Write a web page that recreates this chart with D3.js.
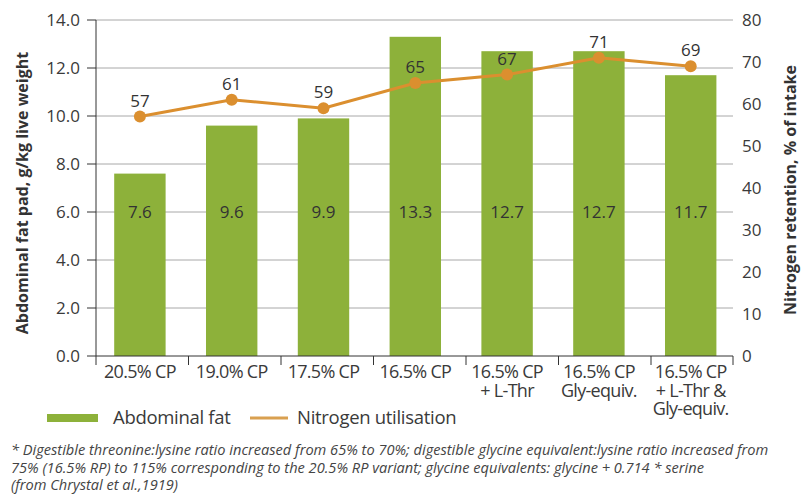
<!DOCTYPE html>
<html>
<head>
<meta charset="utf-8">
<script src="https://cdn.jsdelivr.net/npm/d3@7"></script>
<style>
  html, body { margin: 0; padding: 0; background: #fff; }
  svg { display: block; font-family: "Open Sans", sans-serif; }
</style>
</head>
<body>
<svg id="chart" width="809" height="495"></svg>
<script>
const categories = [
  ["20.5% CP"],
  ["19.0% CP"],
  ["17.5% CP"],
  ["16.5% CP"],
  ["16.5% CP", "+ L-Thr"],
  ["16.5% CP", "Gly-equiv."],
  ["16.5% CP", "+ L-Thr &", "Gly-equiv."]
];
const abdominalFat = [7.6, 9.6, 9.9, 13.3, 12.7, 12.7, 11.7];
const nitrogenUtilisation = [57, 61, 59, 65, 67, 71, 69];
const leftTicks = [0, 2, 4, 6, 8, 10, 12, 14];
const rightTicks = [0, 10, 20, 30, 40, 50, 60, 70, 80];
const footnote = [
  "* Digestible threonine:lysine ratio increased from 65% to 70%; digestible glycine equivalent:lysine ratio increased from",
  "75% (16.5% RP) to 115% corresponding to the 20.5% RP variant; glycine equivalents: glycine + 0.714 * serine",
  "(from Chrystal et al.,1919)"
];

const svg = d3.select("#chart");
const GREEN = "#8db13a", ORANGE = "#db8f2f", TEXT = "#3a3a3a";
const plotL = 96, plotR = 733, plotT = 20, plotB = 356;

const ids = categories.map((c, i) => i);
const x = d3.scaleBand().domain(ids).range([94, 736.6]).paddingInner(0.44).paddingOuter(0.22);
const yL = d3.scaleLinear().domain([0, 14]).range([plotB, plotT]);
const yR = d3.scaleLinear().domain([0, 80]).range([plotB, plotT]);
const tickX = d3.scaleLinear().domain([0, 1]).range([96, 188.5]);
const cx = i => x(i) + x.bandwidth() / 2;

// gridlines
svg.append("g").selectAll("line").data(leftTicks.filter(t => t > 0)).join("line")
  .attr("x1", plotL).attr("x2", plotR)
  .attr("y1", d => yL(d)).attr("y2", d => yL(d))
  .attr("stroke", "#a8a8a8").attr("stroke-width", 1);

// bars
svg.append("g").selectAll("rect").data(abdominalFat).join("rect")
  .attr("x", (d, i) => x(i)).attr("width", x.bandwidth())
  .attr("y", d => yL(d)).attr("height", d => yL(0) - yL(d))
  .attr("fill", GREEN);

// bar labels
svg.append("g").selectAll("text").data(abdominalFat).join("text")
  .attr("x", (d, i) => cx(i))
  .attr("y", yL(6))
  .attr("dy", "0.35em")
  .attr("text-anchor", "middle")
  .attr("font-size", 17).attr("fill", "#333")
  .text(d => d.toFixed(1));

// left axis
const gL = svg.append("g");
gL.append("line").attr("x1", plotL).attr("x2", plotL).attr("y1", plotT).attr("y2", plotB)
  .attr("stroke", "#333");
gL.selectAll("line.t").data(leftTicks).join("line").attr("class", "t")
  .attr("x1", 87).attr("x2", plotL).attr("y1", d => yL(d)).attr("y2", d => yL(d))
  .attr("stroke", "#333");
gL.selectAll("text").data(leftTicks).join("text")
  .attr("x", 80).attr("y", d => yL(d)).attr("dy", "0.35em")
  .attr("text-anchor", "end").attr("font-size", 17).attr("fill", TEXT)
  .text(d => d.toFixed(1));

// right axis labels
svg.append("g").selectAll("text").data(rightTicks).join("text")
  .attr("x", 742).attr("y", d => yR(d)).attr("dy", "0.35em")
  .attr("text-anchor", "start").attr("font-size", 17).attr("fill", TEXT)
  .text(d => d);

// x axis
const gX = svg.append("g");
gX.append("line").attr("x1", plotL).attr("x2", plotR).attr("y1", plotB).attr("y2", plotB)
  .attr("stroke", "#333");
const tickPos = ids.map(i => tickX(i)).concat([plotR]);
gX.selectAll("line.t").data(tickPos).join("line").attr("class", "t")
  .attr("x1", d => d).attr("x2", d => d).attr("y1", plotB).attr("y2", plotB + 9)
  .attr("stroke", "#333");
const labelLines = [];
categories.forEach((c, i) => c.forEach((s, j) => labelLines.push({ i, j, s })));
gX.selectAll("text").data(labelLines).join("text")
  .attr("x", d => cx(d.i))
  .attr("y", d => 372 + d.j * 18.3).attr("dy", "0.35em")
  .attr("text-anchor", "middle").attr("font-size", 18).attr("fill", TEXT)
  .attr("letter-spacing", "-0.7")
  .text(d => d.s);

// line
const line = d3.line().x((d, i) => cx(i)).y(d => yR(d));
svg.append("path").datum(nitrogenUtilisation)
  .attr("d", line).attr("fill", "none").attr("stroke", ORANGE).attr("stroke-width", 3);
svg.append("g").selectAll("circle").data(nitrogenUtilisation).join("circle")
  .attr("cx", (d, i) => cx(i)).attr("cy", d => yR(d))
  .attr("r", 6).attr("fill", ORANGE);
svg.append("g").selectAll("text").data(nitrogenUtilisation).join("text")
  .attr("x", (d, i) => cx(i)).attr("y", d => yR(d) - 16)
  .attr("dy", "0.35em").attr("text-anchor", "middle")
  .attr("font-size", 17).attr("fill", "#333")
  .text(d => d);

// axis titles
svg.append("text")
  .attr("transform", `translate(22,${(plotT + plotB) / 2 + 5}) rotate(-90)`)
  .attr("text-anchor", "middle").attr("dy", "0.35em")
  .attr("font-size", 16).attr("font-weight", "bold").attr("fill", "#333")
  .text("Abdominal fat pad, g/kg live weight");
svg.append("text")
  .attr("transform", `translate(790,${(plotT + plotB) / 2 + 2}) rotate(-90)`)
  .attr("text-anchor", "middle").attr("dy", "0.35em")
  .attr("font-size", 16).attr("font-weight", "bold").attr("fill", "#333")
  .text("Nitrogen retention, % of intake");

// legend
const lg = svg.append("g");
lg.append("rect").attr("x", 47).attr("y", 414).attr("width", 51).attr("height", 8).attr("fill", GREEN);
lg.append("text").attr("x", 113).attr("y", 418).attr("dy", "0.35em")
  .attr("font-size", 18.5).attr("fill", TEXT).attr("letter-spacing", "-0.3").text("Abdominal fat");
lg.append("line").attr("x1", 250).attr("x2", 288).attr("y1", 418).attr("y2", 418)
  .attr("stroke", "#d9a050").attr("stroke-width", 3);
lg.append("text").attr("x", 297).attr("y", 418).attr("dy", "0.35em")
  .attr("font-size", 18.5).attr("fill", TEXT).attr("letter-spacing", "-0.3").text("Nitrogen utilisation");

// footnote
svg.append("g").selectAll("text").data(footnote).join("text")
  .attr("x", 11).attr("y", (d, i) => 450 + i * 17.5).attr("dy", "0.35em")
  .attr("font-size", 14.6).attr("font-style", "italic").attr("fill", "#444")
  .text(d => d);
</script>
</body>
</html>
